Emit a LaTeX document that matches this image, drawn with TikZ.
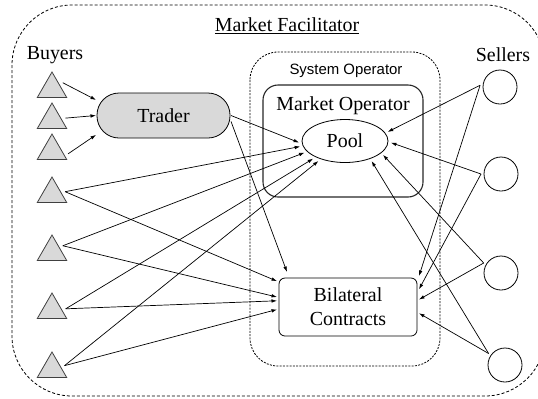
\documentclass[tikz,border=0pt]{standalone}
\usepackage{fontspec}
\setmainfont{Liberation Serif}
\setsansfont{Liberation Sans}
\usepackage{tikz}
\usetikzlibrary{shapes.geometric,arrows.meta}

\begin{document}
\begin{tikzpicture}[x=1bp, y=-1bp, font=\fontsize{20}{24}\selectfont,
  arr/.style={-{Latex[length=5.5bp,width=3.6bp]}, line width=0.7bp},
  buyer/.style={regular polygon, regular polygon sides=3, minimum size=34bp, inner sep=0pt, outer sep=4bp, draw=black!75, line width=0.8bp, fill=gray!30},
  seller/.style={circle, draw, line width=0.8bp, minimum size=34bp, inner sep=0pt, outer sep=3bp},
  lbl/.style={inner sep=0pt}]
  \useasboundingbox (0,0) rectangle (538,398);
  % frames
  \draw[line width=0.8bp, dash pattern=on 3bp off 2bp, rounded corners=60bp] (12,5) rectangle (545,396);
  \draw[line width=0.8bp, dash pattern=on 2bp off 1.3bp, rounded corners=28bp] (250,52) rectangle (440,366);
  \draw[line width=1.1bp, black!85, rounded corners=15bp] (263,85) rectangle (423,197);
  % labels
  \node[lbl] (mflabel) at (287,26) {\underline{Market Facilitator}};
  \node[lbl] (buyerslabel) at (55,55) {Buyers};
  \node[lbl] (sellerslabel) at (503,55) {Sellers};
  \node[lbl, font=\sffamily\fontsize{15}{18}\selectfont] (solabel) at (346,71) {System Operator};
  \node[lbl] (molabel) at (343,106) {Market Operator};
  % main blocks
  \node[ellipse, draw, line width=0.8bp, minimum width=86bp, minimum height=43bp, inner sep=0pt, outer sep=3bp] (pool) at (345,141) {Pool};
  \node[draw, line width=0.8bp, fill=gray!30, rounded corners=22bp, minimum width=133bp, minimum height=45bp, outer sep=1bp] (trader) at (163.5,115.5) {Trader};
  \node[draw, line width=0.8bp, rounded corners=6bp, minimum width=138bp, minimum height=58bp, align=center, outer sep=2bp] (bil) at (348,307) {Bilateral\\Contracts};
  % buyers
  \node[buyer] (b1) at (52,89) {};
  \node[buyer] (b2) at (52,120) {};
  \node[buyer] (b3) at (52,151) {};
  \node[buyer] (b4) at (52,194) {};
  \node[buyer] (b5) at (52,252) {};
  \node[buyer] (b6) at (52,310) {};
  \node[buyer] (b7) at (52,369) {};
  % sellers
  \node[seller] (s1) at (500,87) {};
  \node[seller] (s2) at (501,174) {};
  \node[seller] (s3) at (501,273) {};
  \node[seller] (s4) at (505,365) {};
  % buyers to trader
  \draw[arr] (b1.30) -- (trader.167);
  \draw[arr] (b2.8) -- (trader.west);
  \draw[arr] (b3.-10) -- (trader.-164);
  \draw[arr] (trader.east) -- (pool.182);
  \draw[arr] (trader.-5) -- ([xshift=10bp,yshift=4bp]bil.north west);
  % buyers to pool and contracts
  \draw[arr] (b4.10) -- (pool.187);
  \draw[arr] (b4.10) -- (bil.160);
  \draw[arr] (b5.30) -- (pool.196);
  \draw[arr] (b5.30) -- (bil.172);
  \draw[arr] (b6.5) -- (pool.209);
  \draw[arr] (b6.5) -- (bil.175);
  \draw[arr] (b7.15) -- (pool.217);
  \draw[arr] (b7.15) -- (bil.182);
  % sellers to pool and contracts
  \draw[arr] (s1.175) -- (pool.12);
  \draw[arr] (s1.175) -- (bil.north east);
  \draw[arr] (s2.west) -- (pool.-2);
  \draw[arr] (s2.west) -- (bil.14);
  \draw[arr] (s3.150) -- (pool.-20);
  \draw[arr] (s3.150) -- (bil.6);
  \draw[arr] (s4.145) -- (pool.-37);
  \draw[arr] (s4.145) -- (bil.-5);
\end{tikzpicture}
\end{document}
